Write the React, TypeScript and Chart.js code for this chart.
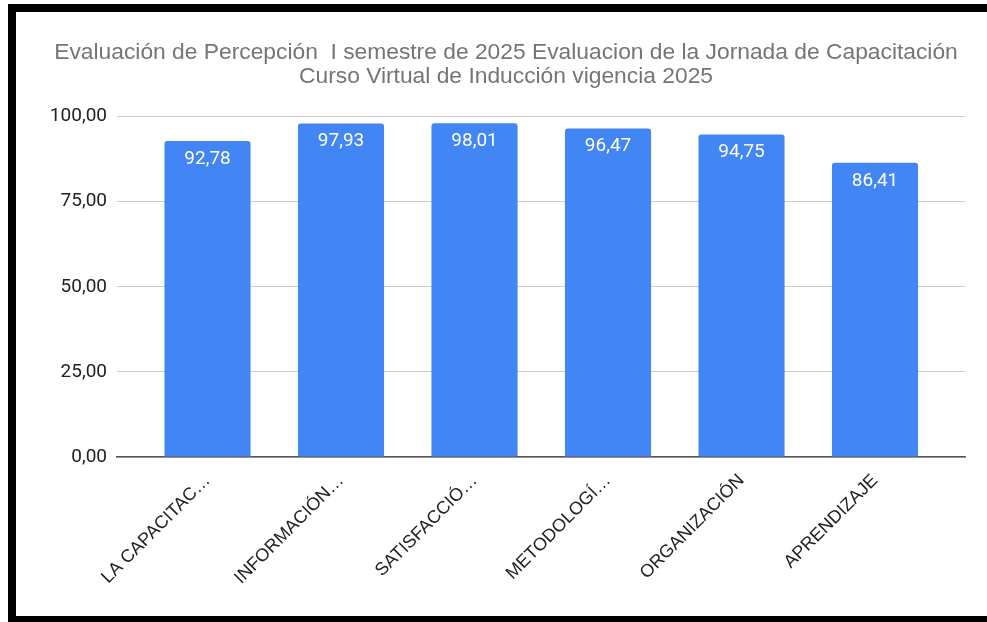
import React, { useEffect, useRef } from "react";
import { Chart, registerables } from "chart.js";

Chart.register(...registerables);

const categories = [
  "LA CAPACITAC…",
  "INFORMACIÓN…",
  "SATISFACCIÓ…",
  "METODOLOGÍ…",
  "ORGANIZACIÓN",
  "APRENDIZAJE",
];
const values = [92.78, 97.93, 98.01, 96.47, 94.75, 86.41];
const yTicks = [0, 25, 50, 75, 100];
const titleLines = [
  "Evaluación de Percepción  I semestre de 2025 Evaluacion de la Jornada de Capacitación",
  "Curso Virtual de Inducción vigencia 2025",
];

const fmt = (v: number) => v.toFixed(2).replace(".", ",");

const valueLabelPlugin = {
  id: "valueLabels",
  afterDatasetsDraw(chart: any) {
    const ctx = chart.ctx;
    const meta = chart.getDatasetMeta(0);
    ctx.save();
    ctx.fillStyle = "#ffffff";
    ctx.font = "19px Roboto";
    ctx.textAlign = "center";
    ctx.textBaseline = "middle";
    meta.data.forEach((bar: any, i: number) => {
      ctx.fillText(fmt(values[i]), bar.x, bar.y + 18);
    });
    ctx.restore();
  },
};

export default function App() {
  const ref = useRef<HTMLCanvasElement>(null);
  useEffect(() => {
    if (!ref.current) return;
    const chart = new Chart(ref.current, {
      type: "bar",
      data: {
        datasets: [
          {
            data: values.map((v, i) => ({ x: i, y: v })),
            backgroundColor: "#4285F4",
            borderRadius: { topLeft: 3, topRight: 3, bottomLeft: 0, bottomRight: 0 },
            borderSkipped: false,
            categoryPercentage: 1,
            barPercentage: 0.645,
          } as any,
        ],
      },
      options: {
        animation: false,
        responsive: false,
        maintainAspectRatio: false,
        layout: { padding: { left: 31, right: 22, top: 0, bottom: 0 } },
        plugins: {
          legend: { display: false },
          tooltip: { enabled: false },
          title: {
            display: true,
            text: titleLines,
            color: "#757575",
            font: { family: "'Liberation Sans', Arial", size: 22.8, weight: "normal", lineHeight: 1.02 },
            padding: { top: 29.5, bottom: 28.5 },
          },
        },
        scales: {
          x: {
            type: "linear",
            offset: false,
            min: -0.678,
            max: 5.674,
            afterBuildTicks: (scale: any) => {
              scale.ticks = categories.map((_, i) => ({ value: i }));
            },
            afterFit: (scale: any) => {
              scale.height = 159;
            },
            grid: { display: false, drawTicks: false },
            border: { display: true, color: "#555555", width: 1.5 },
            ticks: {
              autoSkip: false,
              maxRotation: 45,
              minRotation: 45,
              padding: 13,
              color: "#222222",
              font: { family: "'Liberation Sans', Arial", size: 18 },
              callback: (v: any) => categories[v] ?? "",
            },
          },
          y: {
            min: 0,
            max: 100,
            afterBuildTicks: (scale: any) => {
              scale.ticks = yTicks.map((v) => ({ value: v }));
            },
            afterFit: (scale: any) => {
              scale.width = 70;
            },
            grid: { color: "#cccccc", lineWidth: 1, drawTicks: false },
            border: { display: false },
            ticks: {
              padding: 10,
              color: "#222222",
              font: { family: "Roboto", size: 19 },
              callback: (v: any) => fmt(Number(v)),
            },
          },
        },
      } as any,
      plugins: [valueLabelPlugin],
    });
    return () => chart.destroy();
  }, []);

  return (
    <div
      style={{
        position: "fixed",
        left: 8,
        top: 4,
        width: 979,
        height: 604,
        borderTop: "8px solid #000",
        borderLeft: "8px solid #000",
        borderBottom: "8px solid #000",
        background: "#fff",
        boxSizing: "content-box",
      }}
    >
      <canvas ref={ref} width={971} height={604} style={{ display: "block" }} />
    </div>
  );
}
